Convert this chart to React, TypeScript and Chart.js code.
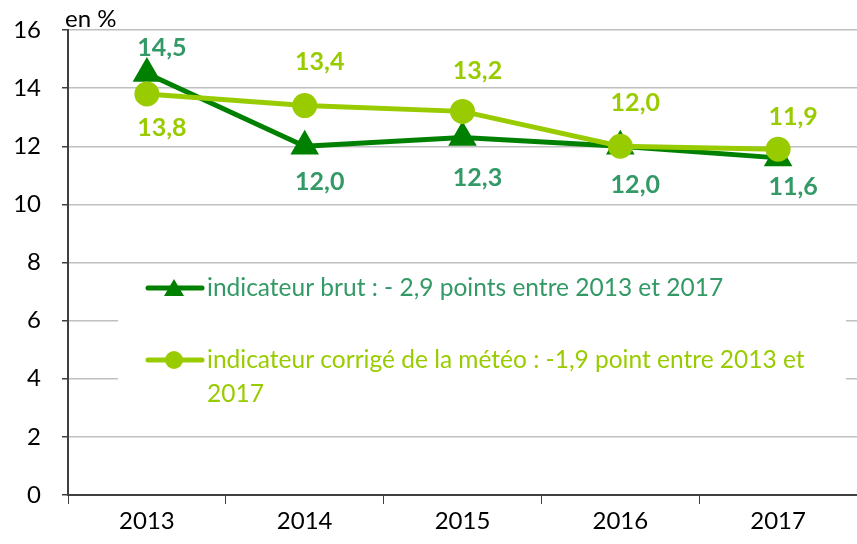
import React, { useEffect, useRef } from "react";
import { Chart, registerables } from "chart.js";

Chart.register(...registerables);

const categories = ["2013", "2014", "2015", "2016", "2017"];
const brutValues = [14.5, 12.0, 12.3, 12.0, 11.6];
const corrigeValues = [13.8, 13.4, 13.2, 12.0, 11.9];
const brutLabelDy = [-26, 36, 40, 39, 29];
const corrigeLabelDy = [34, -44, -40, -43, -32];
const brutLegend = ["indicateur brut : - 2,9 points entre 2013 et 2017"];
const corrigeLegend = ["indicateur corrigé de la météo : -1,9 point entre 2013 et", "2017"];
const yUnit = "en %";

const DARK = "#008000";
const DARK_TEXT = "#339966";
const LIGHT = "#99cc00";
const FONT = "Lato, 'Open Sans', sans-serif";

const fmt = (v: number) => v.toFixed(1).replace(".", ",");

const labelPlugin = {
  id: "valueLabels",
  afterDatasetsDraw(chart: any) {
    const ctx = chart.ctx;
    ctx.save();
    ctx.font = `bold 25px ${FONT}`;
    ctx.textAlign = "center";
    ctx.textBaseline = "middle";
    chart.data.datasets.forEach((ds: any, di: number) => {
      const meta = chart.getDatasetMeta(di);
      const dys = di === 0 ? brutLabelDy : corrigeLabelDy;
      ctx.fillStyle = di === 0 ? DARK_TEXT : LIGHT;
      meta.data.forEach((pt: any, i: number) => {
        ctx.fillText(fmt(ds.data[i]), pt.x + 15, pt.y + dys[i]);
      });
    });
    ctx.restore();
  },
};

const legendPlugin = {
  id: "boxLegend",
  beforeDatasetsDraw(chart: any) {
    const ctx = chart.ctx;
    ctx.save();
    ctx.fillStyle = "#ffffff";
    ctx.fillRect(118, 268, 728, 150);
    ctx.font = `24.5px ${FONT}`;
    ctx.textAlign = "left";
    ctx.textBaseline = "middle";
    const items = [
      { y: 288, color: DARK, text: DARK_TEXT, lines: brutLegend, tri: true },
      { y: 360, color: LIGHT, text: LIGHT, lines: corrigeLegend, tri: false },
    ];
    items.forEach((it) => {
      ctx.strokeStyle = it.color;
      ctx.lineWidth = 5;
      ctx.lineCap = "round";
      ctx.beginPath();
      ctx.moveTo(148, it.y);
      ctx.lineTo(202, it.y);
      ctx.stroke();
      ctx.fillStyle = it.color;
      ctx.beginPath();
      if (it.tri) {
        ctx.moveTo(174, it.y - 9);
        ctx.lineTo(184, it.y + 8);
        ctx.lineTo(164, it.y + 8);
        ctx.closePath();
      } else {
        ctx.arc(174, it.y, 9, 0, Math.PI * 2);
      }
      ctx.fill();
      ctx.fillStyle = it.text;
      it.lines.forEach((ln, k) => ctx.fillText(ln, 207, it.y + k * 34));
    });
    ctx.restore();
  },
};

const unitPlugin = {
  id: "unitLabel",
  afterDraw(chart: any) {
    const ctx = chart.ctx;
    ctx.save();
    ctx.font = `24px ${FONT}`;
    ctx.fillStyle = "#000";
    ctx.textAlign = "left";
    ctx.textBaseline = "middle";
    ctx.fillText(yUnit, 65, 19);
    ctx.restore();
  },
};

export default function App() {
  const ref = useRef<HTMLCanvasElement>(null);
  useEffect(() => {
    document.body.style.margin = "0";
    const chart = new Chart(ref.current!, {
      type: "line",
      data: {
        labels: categories,
        datasets: [
          {
            label: brutLegend.join(" "),
            data: brutValues,
            borderColor: DARK,
            backgroundColor: DARK,
            borderWidth: 5,
            pointStyle: "triangle",
            pointRadius: 11.5,
            pointHoverRadius: 11.5,
            order: 2,
          },
          {
            label: corrigeLegend.join(" "),
            data: corrigeValues,
            borderColor: LIGHT,
            backgroundColor: LIGHT,
            borderWidth: 5,
            pointStyle: "circle",
            pointRadius: 10,
            pointHoverRadius: 10,
            order: 1,
          },
        ],
      },
      options: {
        animation: false,
        responsive: false,
        layout: { autoPadding: false, padding: { top: 30, right: 0, left: 0, bottom: 0 } },
        plugins: { legend: { display: false }, tooltip: { enabled: false } },
        scales: {
          x: {
            offset: true,
            grid: { offset: true, drawOnChartArea: false, tickLength: 9, color: "#404040", lineWidth: 1 },
            border: { color: "#404040", width: 2 },
            ticks: { color: "#000", font: { family: FONT, size: 24 }, padding: 3 },
            afterFit: (s: any) => { s.height = 49; },
          },
          y: {
            min: 0,
            max: 16,
            ticks: { stepSize: 2, color: "#000", font: { family: FONT, size: 24 }, padding: 21 },
            grid: { color: "#c0c0c0", lineWidth: 1.5, tickLength: 6, tickColor: "#404040" },
            border: { color: "#404040", width: 2 },
            afterFit: (s: any) => { s.width = 68; s.paddingTop = 0; s.paddingBottom = 0; },
          },
        },
      },
      plugins: [legendPlugin, labelPlugin, unitPlugin],
    });
    return () => chart.destroy();
  }, []);
  return <canvas ref={ref} width={857} height={544} style={{ display: "block" }} />;
}
